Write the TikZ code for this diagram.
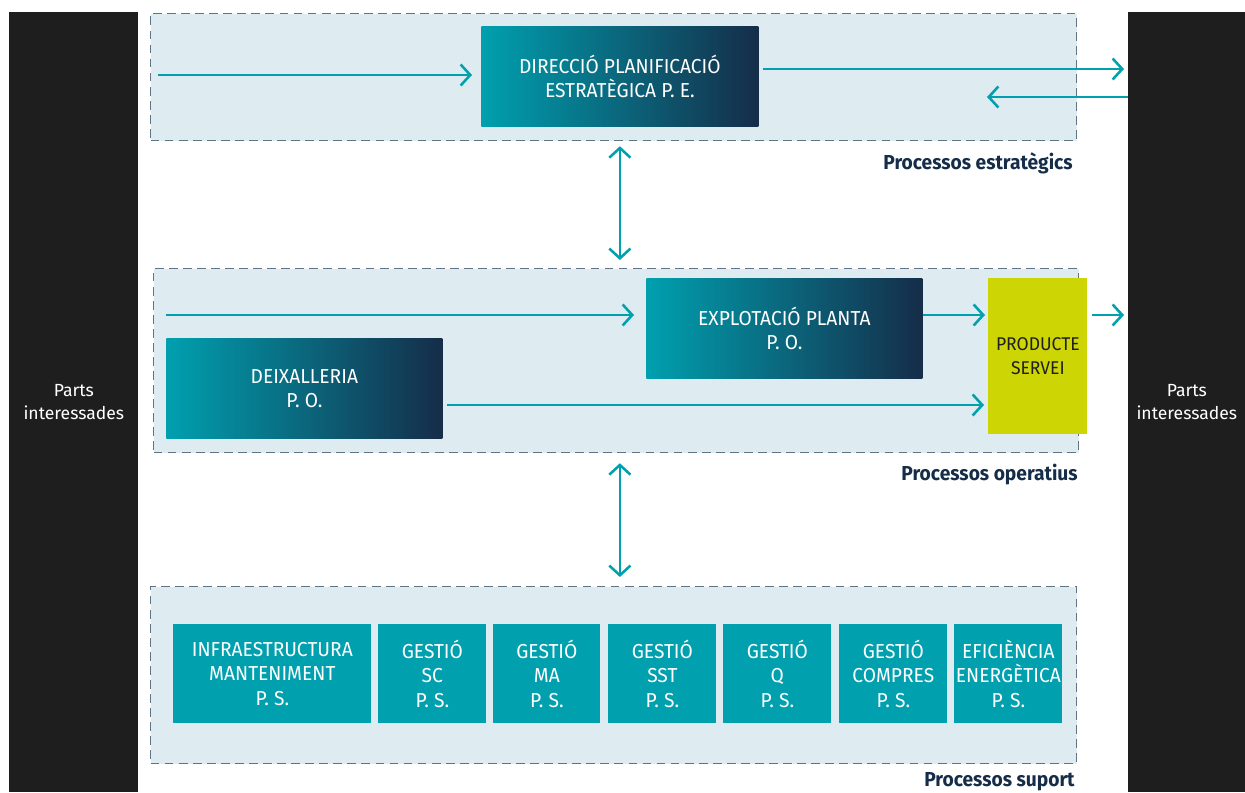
\documentclass[tikz,border=0pt]{standalone}
\usepackage{fontspec}
\setmainfont{Fira Sans}
\newfontfamily\boxfont{Fira Sans}[FakeStretch=0.95]
\usetikzlibrary{arrows.meta}
\definecolor{procteal}{RGB}{0,160,175}
\definecolor{procnavy}{RGB}{21,45,73}
\definecolor{areafill}{RGB}{222,235,240}
\definecolor{dashgrey}{RGB}{95,116,133}
\definecolor{barblack}{RGB}{30,30,30}
\definecolor{prodyellow}{RGB}{205,213,5}
\def\px{0.02cm}
\tikzset{
    area/.style={draw=dashgrey, fill=areafill, line width=0.7pt, dash pattern=on 5pt off 3pt},
    bar/.style={fill=barblack, text=white, font=\fontsize{10}{13}\selectfont},
    gradbox/.style={left color=procteal, right color=procnavy, text=white},
    flatbox/.style={fill=procteal, text=white},
    prodbox/.style={fill=prodyellow, text=barblack, font=\boxfont\fontsize{10.5}{13.6}\selectfont},
    barb/.tip={Straight Barb[length=5.5pt, width=12pt]},
    flow/.style={draw=procteal, line width=1.45pt, -barb},
    twoway/.style={flow, barb-barb},
    lbl/.style={text=procnavy, font=\boxfont\bfseries\fontsize{11.5}{14}\selectfont, anchor=east, inner sep=0pt}
}
\newcommand{\pbox}[7][]{
    \node[anchor=north west, align=center, inner sep=0pt,
        font=\boxfont\fontsize{11.5}{13.8}\selectfont, #1,
        minimum width={(#5-#3)*\px}, minimum height={(#6-#4)*\px}] (#2) at (#3,#4) {#7};
}

\begin{document}
\begin{tikzpicture}[x=\px, y=-\px]
    \useasboundingbox (0,0) rectangle (1245,792);
    \pbox[bar]{lbar}{9}{12}{138}{792}{Parts\\interessades}
    \pbox[bar]{rbar}{1128}{12}{1245}{792}{Parts\\interessades}
    \pbox[area]{strat}{150}{13}{1076}{140}{}
    \pbox[area]{ops}{153}{268}{1078}{452}{}
    \pbox[area]{sup}{150}{586}{1076}{763}{}
    \pbox[gradbox]{dir}{481}{26}{758}{126}{DIRECCIÓ PLANIFICACIÓ\\ESTRATÈGICA P. E.}
    \pbox[gradbox]{expl}{646}{278}{922}{378}{EXPLOTACIÓ PLANTA\\P. O.}
    \pbox[gradbox]{deix}{166}{338}{442}{438}{DEIXALLERIA\\P. O.}
    \pbox[prodbox]{prod}{988}{278}{1087}{434}{PRODUCTE\\SERVEI}
    \pbox[flatbox]{infra}{173}{624}{371}{723}{INFRAESTRUCTURA\\MANTENIMENT\\P. S.}
    \pbox[flatbox]{gsc}{378}{624}{486}{723}{GESTIÓ\\SC\\P. S.}
    \pbox[flatbox]{gma}{493}{624}{600}{723}{GESTIÓ\\MA\\P. S.}
    \pbox[flatbox]{gsst}{608}{624}{716}{723}{GESTIÓ\\SST\\P. S.}
    \pbox[flatbox]{gq}{723}{624}{831}{723}{GESTIÓ\\Q\\P. S.}
    \pbox[flatbox]{gcomp}{839}{624}{947}{723}{GESTIÓ\\COMPRES\\P. S.}
    \pbox[flatbox]{efic}{954}{624}{1062}{723}{EFICIÈNCIA\\ENERGÈTICA\\P. S.}
    \node[lbl] (lstrat) at (1073,163) {Processos estratègics};
    \node[lbl] (lops) at (1078,475) {Processos operatius};
    \node[lbl] (lsup) at (1075,782) {Processos suport};
    \coordinate (s1) at (158,75);
    \coordinate (s2) at (1124,69);
    \coordinate (s3) at (987,97);
    \coordinate (o1) at (166,315);
    \coordinate (o2) at (0,405);
    \draw[flow, shorten >=9*\px] (s1) -- (s1 -| dir.west);
    \draw[flow, shorten <=4*\px] (dir.east |- s2) -- (s2);
    \draw[flow] (rbar.west |- s3) -- (s3);
    \draw[twoway, shorten <=5*\px, shorten >=8*\px] (dir.south |- strat.south) -- (dir.south |- ops.north);
    \draw[twoway, shorten <=10*\px, shorten >=9*\px] (dir.south |- ops.south) -- (dir.south |- sup.north);
    \draw[flow, shorten >=12*\px] (o1) -- (o1 -| expl.west);
    \draw[flow, shorten >=3*\px] (expl.east |- o1) -- (prod.west |- o1);
    \draw[flow, shorten <=4*\px, shorten >=4*\px] (deix.east |- o2) -- (prod.west |- o2);
    \draw[flow, shorten <=4*\px, shorten >=4*\px] (prod.east |- o1) -- (rbar.west |- o1);
\end{tikzpicture}
\end{document}
